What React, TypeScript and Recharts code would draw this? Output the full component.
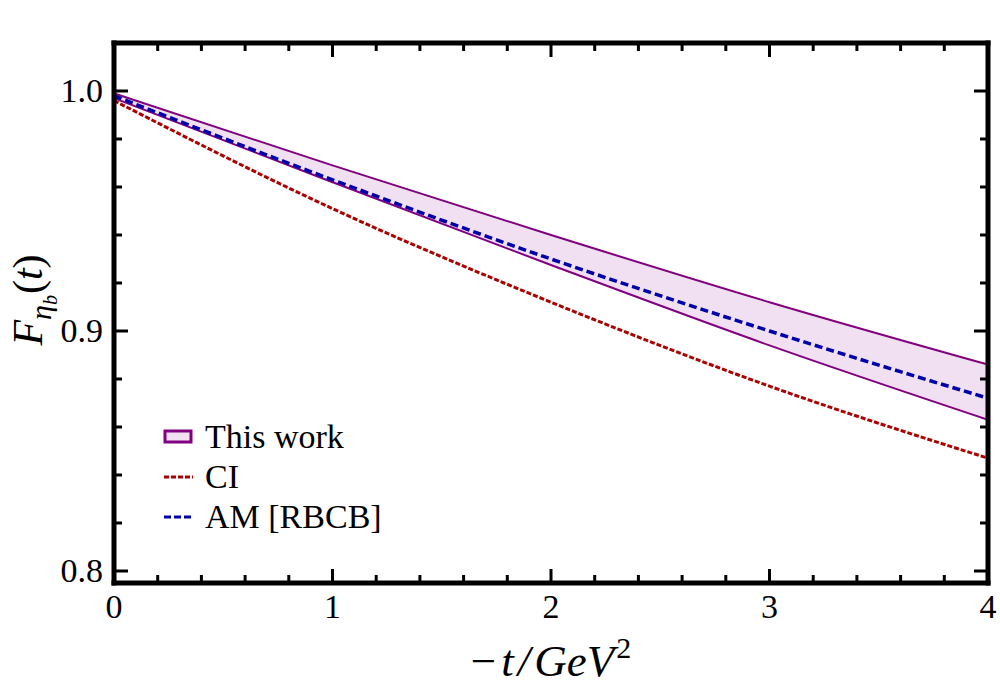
import React from 'react';
import { ComposedChart, Line, Area, XAxis, YAxis, Legend } from 'recharts';

// -t in GeV^2
const tValues = [0, 1, 2, 3, 4];
// "This work" band edges
const thisWorkUpper = [0.999, 0.969, 0.94, 0.912, 0.886];
const thisWorkLower = [0.997, 0.962, 0.9275, 0.894, 0.863];
// CI curve
const ciValues = [0.996, 0.951, 0.912, 0.877, 0.847];
// AM [RBCB] curve
const amValues = [0.998, 0.963, 0.93, 0.9, 0.872];

const xTicks = [0, 0.2, 0.4, 0.6, 0.8, 1, 1.2, 1.4, 1.6, 1.8, 2, 2.2, 2.4, 2.6, 2.8, 3, 3.2, 3.4, 3.6, 3.8, 4];
const yTicks = [0.8, 0.82, 0.84, 0.86, 0.88, 0.9, 0.92, 0.94, 0.96, 0.98, 1.0];
const legendLabels = ['This work', 'CI', 'AM [RBCB]'];

const PURPLE = '#800080';
const BAND = '#f1e0f1';
const RED = '#aa0000';
const BLUE = '#0000aa';
const FONT = 'Liberation Serif';

const data = tValues.map((t, i) => ({
  t,
  band: [thisWorkLower[i], thisWorkUpper[i]],
  upper: thisWorkUpper[i],
  lower: thisWorkLower[i],
  ci: ciValues[i],
  am: amValues[i],
}));

const isMajor = (v: number, step: number) => Math.abs(v / step - Math.round(v / step)) < 1e-6;
const MAJOR = 14;
const MINOR = 8;

const BottomTick = (p: any) => {
  const { x, y, payload } = p;
  const v = payload.value;
  const major = isMajor(v, 1);
  return (
    <g>
      <line x1={x} x2={x} y1={y} y2={y - (major ? MAJOR : MINOR)} stroke="#000" strokeWidth={3} />
      {major && (
        <text x={x} y={y + 35} textAnchor="middle" style={{ fontFamily: FONT }} fontSize={34} fill="#000">
          {String(v)}
        </text>
      )}
    </g>
  );
};

const TopTick = (p: any) => {
  const { x, y, payload } = p;
  const major = isMajor(payload.value, 1);
  return <line x1={x} x2={x} y1={y} y2={y + (major ? MAJOR : MINOR)} stroke="#000" strokeWidth={3} />;
};

const LeftTick = (p: any) => {
  const { x, y, payload } = p;
  const v = payload.value;
  const major = isMajor(v, 0.1);
  return (
    <g>
      <line x1={x} x2={x + (major ? MAJOR : MINOR)} y1={y} y2={y} stroke="#000" strokeWidth={3} />
      {major && (
        <text x={x - 11} y={y + 11} textAnchor="end" style={{ fontFamily: FONT }} fontSize={34} fill="#000">
          {v.toFixed(1)}
        </text>
      )}
    </g>
  );
};

const RightTick = (p: any) => {
  const { x, y, payload } = p;
  const major = isMajor(payload.value, 0.1);
  return <line x1={x} x2={x - (major ? MAJOR : MINOR)} y1={y} y2={y} stroke="#000" strokeWidth={3} />;
};

const XTitle = (p: any) => {
  const vb = p.viewBox || { x: 114, y: 583, width: 874, height: 108 };
  const cx = vb.x + vb.width / 2;
  return (
    <text x={cx} y={vb.y + 93} textAnchor="middle" style={{ fontFamily: FONT }} fontSize={45} fill="#000">
      <tspan>−</tspan>
      <tspan dx={5} fontStyle="italic">t</tspan>
      <tspan dx={4} fontStyle="italic">/</tspan>
      <tspan dx={4} fontStyle="italic">GeV</tspan>
      <tspan fontSize={30} dy={-18} dx={2}>2</tspan>
    </text>
  );
};

const YTitle = () => {
  const bx = 42;
  const cy = 300;
  return (
    <text
      x={bx}
      y={cy}
      transform={`rotate(-90, ${bx}, ${cy})`}
      textAnchor="middle"
      style={{ fontFamily: FONT }}
      fontSize={42}
      fill="#000"
    >
      <tspan fontStyle="italic">F</tspan>
      <tspan fontStyle="italic" fontSize={30} dy={9}>η</tspan>
      <tspan fontStyle="italic" fontSize={20} dy={6}>b</tspan>
      <tspan dy={-15} dx={1}>(</tspan>
      <tspan fontStyle="italic">t</tspan>
      <tspan>)</tspan>
    </text>
  );
};

const LegendContent = () => {
  const icons = [
    <rect key="a" x={2} y={4} width={26} height={11} fill={BAND} stroke={PURPLE} strokeWidth={3} />,
    <line key="b" x1={1} x2={30} y1={10} y2={10} stroke={RED} strokeWidth={3} strokeDasharray="5 2" />,
    <line key="c" x1={1} x2={30} y1={10} y2={10} stroke={BLUE} strokeWidth={3} strokeDasharray="7 3" />,
  ];
  return (
    <div style={{ fontFamily: FONT, fontSize: 34, color: '#000' }}>
      {legendLabels.map((label, i) => (
        <div key={label} style={{ display: 'flex', alignItems: 'center', height: 40, whiteSpace: 'nowrap' }}>
          <svg width={31} height={20} style={{ marginRight: 11, display: 'block' }}>
            {icons[i]}
          </svg>
          <span style={{ lineHeight: '40px', fontFamily: FONT }}>{label}</span>
        </div>
      ))}
    </div>
  );
};

const axisLine = { stroke: '#000', strokeWidth: 5, strokeLinecap: 'square' as const };

export default function App() {
  return (
    <div style={{ position: 'absolute', left: 0, top: 0, background: '#fff', fontFamily: FONT }}>
      <ComposedChart width={1000} height={691} data={data} margin={{ top: 42, right: 11, bottom: 0, left: 0 }}>
        <XAxis
          xAxisId={0}
          dataKey="t"
          type="number"
          domain={[0, 4]}
          ticks={xTicks}
          interval={0}
          height={108}
          tickSize={0}
          tickMargin={0}
          tickLine={false}
          axisLine={axisLine}
          tick={(p: any) => <BottomTick {...p} />}
          label={{ content: (p: any) => <XTitle {...p} /> }}
          allowDataOverflow
        />
        <XAxis
          xAxisId="top"
          orientation="top"
          dataKey="t"
          type="number"
          domain={[0, 4]}
          ticks={xTicks}
          interval={0}
          height={1}
          tickSize={0}
          tickMargin={0}
          tickLine={false}
          axisLine={axisLine}
          tick={(p: any) => <TopTick {...p} />}
          allowDataOverflow
        />
        <YAxis
          yAxisId={0}
          type="number"
          domain={[0.795, 1.02]}
          ticks={yTicks}
          interval={0}
          width={114}
          tickSize={0}
          tickMargin={0}
          tickLine={false}
          axisLine={axisLine}
          tick={(p: any) => <LeftTick {...p} />}
          label={{ content: () => <YTitle /> }}
          allowDataOverflow
        />
        <YAxis
          yAxisId="right"
          orientation="right"
          type="number"
          domain={[0.795, 1.02]}
          ticks={yTicks}
          interval={0}
          width={1}
          tickSize={0}
          tickMargin={0}
          tickLine={false}
          axisLine={axisLine}
          tick={(p: any) => <RightTick {...p} />}
          allowDataOverflow
        />
        <Area
          dataKey="band"
          type="monotone"
          stroke="none"
          fill={BAND}
          fillOpacity={1}
          isAnimationActive={false}
        />
        <Line dataKey="upper" type="monotone" stroke={PURPLE} strokeWidth={2} dot={false} isAnimationActive={false} />
        <Line dataKey="lower" type="monotone" stroke={PURPLE} strokeWidth={2} dot={false} isAnimationActive={false} />
        <Line
          dataKey="ci"
          type="monotone"
          stroke={RED}
          strokeWidth={3}
          strokeDasharray="5 2"
          dot={false}
          isAnimationActive={false}
        />
        <Line
          dataKey="am"
          type="monotone"
          stroke={BLUE}
          strokeWidth={3.5}
          strokeDasharray="8 4"
          dot={false}
          isAnimationActive={false}
        />
        <Legend
          layout="vertical"
          align="center"
          verticalAlign="middle"
          wrapperStyle={{ position: 'absolute', left: 163, top: 417, width: 320, height: 120 }}
          content={() => <LegendContent />}
        />
      </ComposedChart>
    </div>
  );
}
